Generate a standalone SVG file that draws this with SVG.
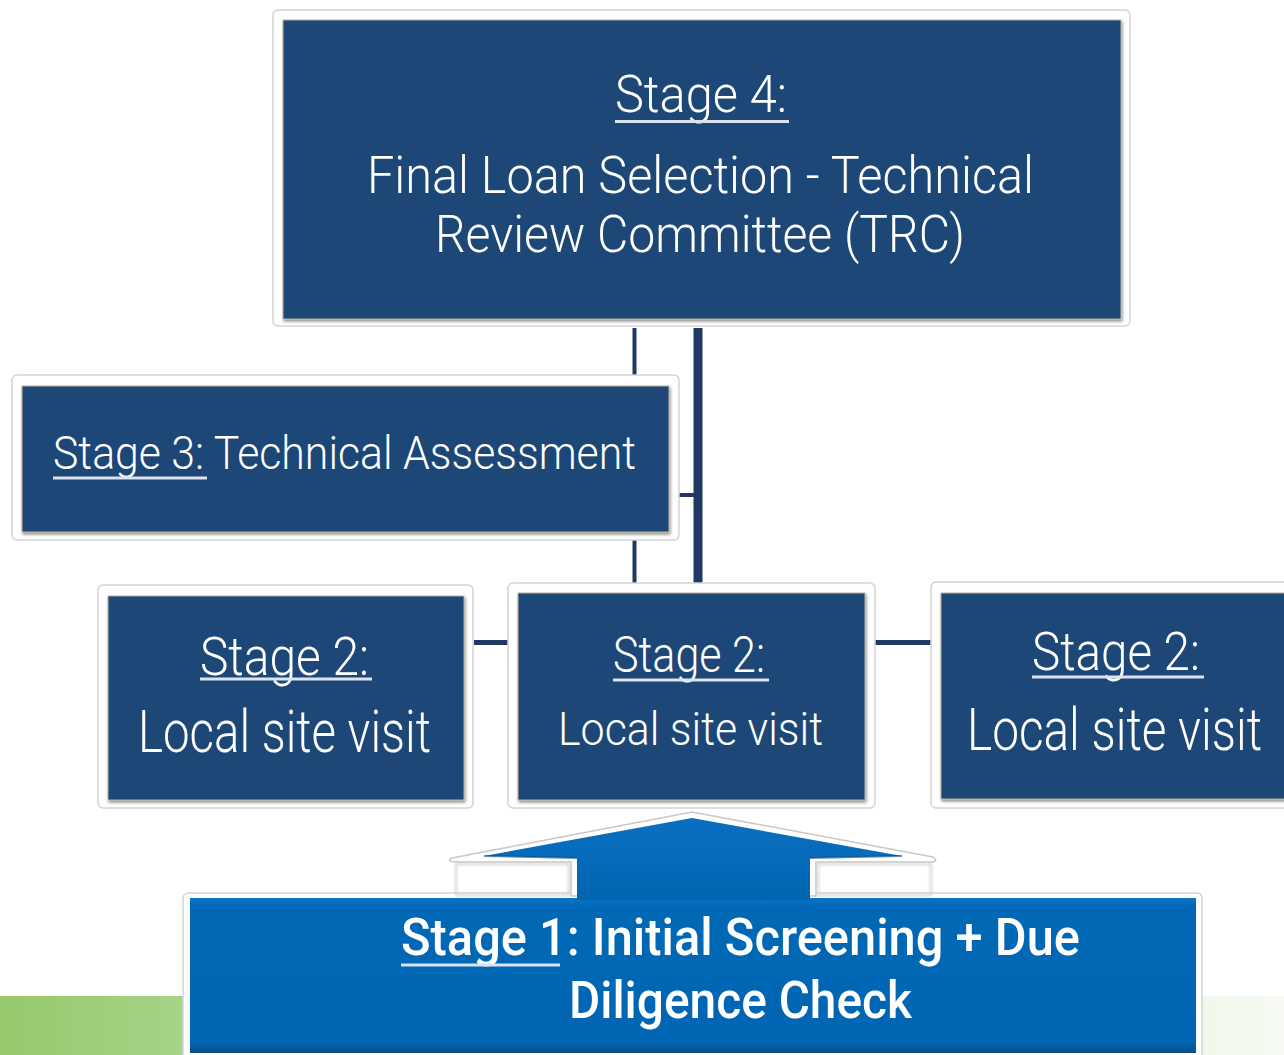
<svg xmlns="http://www.w3.org/2000/svg" width="1284" height="1055" viewBox="0 0 1284 1055">
<defs>
<style>
.frame{fill:#ffffff;stroke:#d4d4d4;stroke-width:1.5}
.box{fill:#1f4677;stroke:#b9b39c;stroke-width:1;filter:url(#sh)}
.t{fill:#ffffff;font-family:Roboto,'DejaVu Sans Condensed','Liberation Sans',sans-serif;font-weight:300}
.b{font-weight:500}
.ul{stroke:#dbe3f0;stroke-width:3}
.con{stroke:#1f3864;fill:none}
</style>
<filter id="sh" x="-5%" y="-5%" width="110%" height="115%">
<feDropShadow dx="1" dy="2" stdDeviation="1.5" flood-color="#000" flood-opacity="0.45"/>
</filter>
<filter id="blur1"><feGaussianBlur stdDeviation="1.5"/></filter>
<linearGradient id="green" x1="0" y1="0" x2="1" y2="0">
<stop offset="0" stop-color="#96c96c"/>
<stop offset="0.15" stop-color="#a7d489"/>
<stop offset="0.9" stop-color="#eff6e8"/>
<stop offset="1" stop-color="#f6faf2"/>
</linearGradient>
<linearGradient id="blue1" x1="0" y1="0" x2="0" y2="1">
<stop offset="0" stop-color="#0a75c8"/>
<stop offset="0.06" stop-color="#0068b6"/>
<stop offset="0.93" stop-color="#0066b3"/>
<stop offset="1" stop-color="#0b4f86"/>
</linearGradient>
<linearGradient id="arrowg" x1="0" y1="0" x2="0" y2="1">
<stop offset="0" stop-color="#0a6fc0"/>
<stop offset="1" stop-color="#0066b3"/>
</linearGradient>
</defs>

<rect x="0" y="996" width="1284" height="59" fill="url(#green)"/>

<g id="connectors">
<line class="con" x1="634.5" y1="328" x2="634.5" y2="375" stroke-width="4"/>
<line class="con" x1="634.5" y1="540" x2="634.5" y2="583" stroke-width="4"/>
<line class="con" x1="698" y1="328" x2="698" y2="583" stroke-width="9"/>
<line class="con" x1="679" y1="495" x2="698" y2="495" stroke-width="4"/>
<line class="con" x1="474" y1="642.5" x2="508" y2="642.5" stroke-width="5"/>
<line class="con" x1="875" y1="642.5" x2="931" y2="642.5" stroke-width="5"/>
</g>

<g id="stage4">
<rect class="frame" x="273" y="10" width="857" height="316" rx="5"/>
<rect class="box" x="283" y="20" width="838" height="299"/>
<text class="t" x="615" y="112" font-size="52" textLength="172" lengthAdjust="spacingAndGlyphs">Stage 4:</text>
<line class="ul" x1="615" y1="121.5" x2="789" y2="121.5"/>
<text class="t" x="367" y="193" font-size="52" textLength="667" lengthAdjust="spacingAndGlyphs">Final Loan Selection - Technical</text>
<text class="t" x="435" y="252" font-size="52" textLength="530" lengthAdjust="spacingAndGlyphs">Review Committee (TRC)</text>
</g>

<g id="stage3">
<rect class="frame" x="12" y="375" width="667" height="165" rx="5"/>
<rect class="box" x="22" y="386" width="647" height="146"/>
<text class="t" x="53" y="469" font-size="47" textLength="583" lengthAdjust="spacingAndGlyphs">Stage 3: Technical Assessment</text>
<line class="ul" x1="53" y1="478" x2="207" y2="478"/>
</g>

<g id="stage2-left">
<rect class="frame" x="98" y="585" width="375" height="223" rx="5"/>
<rect class="box" x="108" y="596" width="356" height="204"/>
<text class="t" x="200" y="675" font-size="53" textLength="169" lengthAdjust="spacingAndGlyphs">Stage 2:</text>
<line class="ul" x1="200" y1="679" x2="372" y2="679"/>
<text class="t" x="138" y="752" font-size="60" textLength="293" lengthAdjust="spacingAndGlyphs">Local site visit</text>
</g>

<g id="stage2-mid">
<rect class="frame" x="508" y="583" width="367" height="225" rx="5"/>
<rect class="box" x="518" y="593" width="347" height="207"/>
<text class="t" x="613" y="672" font-size="50" textLength="152" lengthAdjust="spacingAndGlyphs">Stage 2:</text>
<line class="ul" x1="613" y1="680" x2="769" y2="680"/>
<text class="t" x="558" y="745" font-size="47" textLength="265" lengthAdjust="spacingAndGlyphs">Local site visit</text>
</g>

<g id="stage2-right">
<rect class="frame" x="931" y="582" width="370" height="226" rx="5"/>
<rect class="box" x="941" y="593" width="350" height="206"/>
<text class="t" x="1032" y="670" font-size="53" textLength="168" lengthAdjust="spacingAndGlyphs">Stage 2:</text>
<line class="ul" x1="1032" y1="677" x2="1204" y2="677"/>
<text class="t" x="967" y="750" font-size="60" textLength="295" lengthAdjust="spacingAndGlyphs">Local site visit</text>
</g>

<g id="stage1">
<rect class="frame" x="183" y="893" width="1019" height="175" rx="5"/>
<path d="M452,858 L692,812 L933,857 Q939,861 932,862 L816,862 L816,896 L571,896 L571,862 L454,862 Q446,861 452,858 Z" fill="#ffffff" stroke="#c8c8c8" stroke-width="1.5"/>
<rect x="456" y="864" width="113" height="31" fill="none" stroke="#cfcfcf" stroke-width="2" filter="url(#blur1)"/>
<rect x="818" y="864" width="113" height="31" fill="none" stroke="#cfcfcf" stroke-width="2" filter="url(#blur1)"/>
<rect x="190" y="898" width="1006" height="155" fill="url(#blue1)"/>
<path d="M692,818 L902,856 L810,858 L810,900 L577,900 L577,858 L484,856 Z" fill="url(#arrowg)"/>
<path d="M484,856 L577,858 M810,858 L902,856" stroke="#0b4a80" stroke-width="2" fill="none" opacity="0.6"/>
<text class="t b" x="401" y="955" font-size="52" textLength="679" lengthAdjust="spacingAndGlyphs">Stage 1: Initial Screening + Due</text>
<line class="ul" x1="401" y1="965" x2="560" y2="965"/>
<text class="t b" x="569" y="1018" font-size="52" textLength="343" lengthAdjust="spacingAndGlyphs">Diligence Check</text>
</g>
</svg>
